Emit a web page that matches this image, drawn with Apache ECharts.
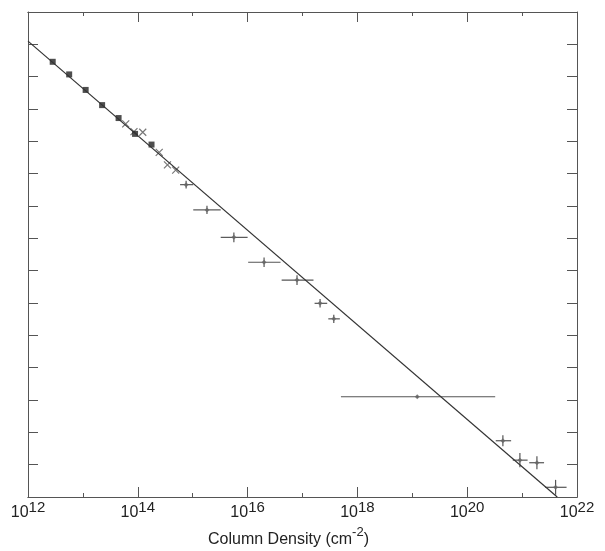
<!DOCTYPE html>
<html>
<head>
<meta charset="utf-8">
<script src="https://cdn.jsdelivr.net/npm/echarts@6/dist/echarts.min.js"></script>
<style>html,body{margin:0;padding:0;background:#fff}#chart{width:605px;height:551px}</style>
</head>
<body>
<div id="chart"></div>
<script>
// all values are log10
var fitLogN = [12, 21.64];
var fitLogF = [-9.9, -24];

// filled squares
var sqLogN = [12.45, 12.75, 13.05, 13.35, 13.65, 13.95, 14.25];
var sqLogF = [-10.54, -10.93, -11.41, -11.88, -12.28, -12.77, -13.10];

// small x markers
var xLogN = [13.78, 13.93, 14.09, 14.39, 14.54, 14.69];
var xLogF = [-12.46, -12.70, -12.72, -13.34, -13.73, -13.89];

// binned points with error bars
var binLogN = [14.88, 15.26, 15.75, 16.30, 16.90, 17.32, 17.57, 19.09, 20.65, 20.96, 21.27, 21.61];
var binLoN  = [14.77, 15.01, 15.51, 16.01, 16.62, 17.22, 17.47, 17.70, 20.52, 20.83, 21.13, 21.42];
var binHiN  = [15.01, 15.51, 16.00, 16.60, 17.20, 17.45, 17.68, 20.51, 20.80, 21.10, 21.40, 21.81];
var binLogF = [-14.34, -15.12, -15.97, -16.74, -17.29, -18.01, -18.49, -20.90, -22.26, -22.86, -22.94, -23.70];
var binErrF = [0.12, 0.13, 0.15, 0.15, 0.15, 0.13, 0.13, 0.04, 0.17, 0.22, 0.20, 0.23];

var p = function (e) { return Math.pow(10, e); };

var fitData = fitLogN.map(function (n, i) { return [p(n), p(fitLogF[i])]; });
var sqData = sqLogN.map(function (n, i) { return [p(n), p(sqLogF[i])]; });
var xData = xLogN.map(function (n, i) { return [p(n), p(xLogF[i])]; });
var binData = binLogN.map(function (n, i) {
    return [p(n), p(binLogF[i]), p(binLoN[i]), p(binHiN[i]),
            p(binLogF[i] - binErrF[i]), p(binLogF[i] + binErrF[i])];
});

var font = 'Liberation Sans, Arial, sans-serif';
var axisCol = '#555';

function xAx(pos, base, len, show) {
    return {
        type: 'log', logBase: base, position: pos,
        min: 1e12, max: 1e22, interval: 1,
        axisLine: { show: true, onZero: false, lineStyle: { color: axisCol, width: 1 } },
        axisTick: { show: true, inside: true, length: len, lineStyle: { color: axisCol } },
        splitLine: { show: false },
        axisLabel: show ? {
            show: true, margin: 3, fontFamily: font, color: '#222',
            formatter: function (v) { return '{b|10}{s|' + Math.round(Math.log10(v)) + '}'; },
            rich: {
                b: { fontSize: 16, fontFamily: font, color: '#222', verticalAlign: 'bottom', lineHeight: 21 },
                s: { fontSize: 15, fontFamily: font, color: '#222', verticalAlign: 'top', lineHeight: 21 }
            }
        } : { show: false },
        name: show ? '{b|Column Density (cm}{s|-2}{b|)}' : '',
        nameLocation: 'middle', nameGap: 29,
        nameTextStyle: {
            fontSize: 16, fontFamily: font, color: '#222',
            padding: [0, 28, 0, 0],
            rich: {
                b: { fontSize: 16, fontFamily: font, color: '#222', verticalAlign: 'bottom', lineHeight: 22 },
                s: { fontSize: 13, fontFamily: font, color: '#222', verticalAlign: 'top', lineHeight: 22 }
            }
        }
    };
}

function yAx(pos) {
    return {
        type: 'log', logBase: 10, position: pos,
        min: 1e-24, max: 1e-9, interval: 1,
        axisLine: { show: true, onZero: false, lineStyle: { color: axisCol, width: 1 } },
        axisTick: { show: true, inside: true, length: 10, lineStyle: { color: axisCol } },
        splitLine: { show: false },
        axisLabel: { show: false }
    };
}

var myChart = echarts.init(document.getElementById('chart'));
option = {
    backgroundColor: '#fff',
    animation: false,
    grid: { left: 28, right: 28, top: 12, bottom: 54, containLabel: false, outerBoundsMode: 'none' },
    xAxis: [
        xAx('bottom', 100, 10, true),
        xAx('bottom', 10, 4, false),
        xAx('top', 100, 10, false),
        xAx('top', 10, 4, false)
    ],
    yAxis: [yAx('left'), yAx('right')],
    series: [
        {
            type: 'line', data: fitData, symbol: 'none',
            lineStyle: { color: '#333', width: 1.2 }
        },
        {
            type: 'custom', data: binData,
            encode: { x: 0, y: 1 },
            renderItem: function (params, api) {
                var l = api.coord([api.value(2), api.value(1)]);
                var r = api.coord([api.value(3), api.value(1)]);
                var t = api.coord([api.value(0), api.value(5)]);
                var b = api.coord([api.value(0), api.value(4)]);
                var st = { stroke: '#555', lineWidth: 1.2 };
                return {
                    type: 'group', children: [
                        { type: 'line', shape: { x1: l[0], y1: l[1], x2: r[0], y2: r[1] }, style: st },
                        { type: 'line', shape: { x1: t[0], y1: t[1], x2: b[0], y2: b[1] }, style: st }
                    ]
                };
            }
        },
        {
            type: 'scatter', data: binData.map(function (d) { return [d[0], d[1]]; }),
            symbol: 'diamond', symbolSize: 5,
            itemStyle: { color: '#666' }
        },
        {
            type: 'scatter', data: xData,
            symbol: 'path://M0,0L10,10M10,0L0,10', symbolSize: 7,
            itemStyle: { color: 'none', borderColor: '#555', borderWidth: 1.2 }
        },
        {
            type: 'scatter', data: sqData,
            symbol: 'rect', symbolSize: 6,
            itemStyle: { color: '#222' }
        }
    ]
};
myChart.setOption(option);
</script>
</body>
</html>
